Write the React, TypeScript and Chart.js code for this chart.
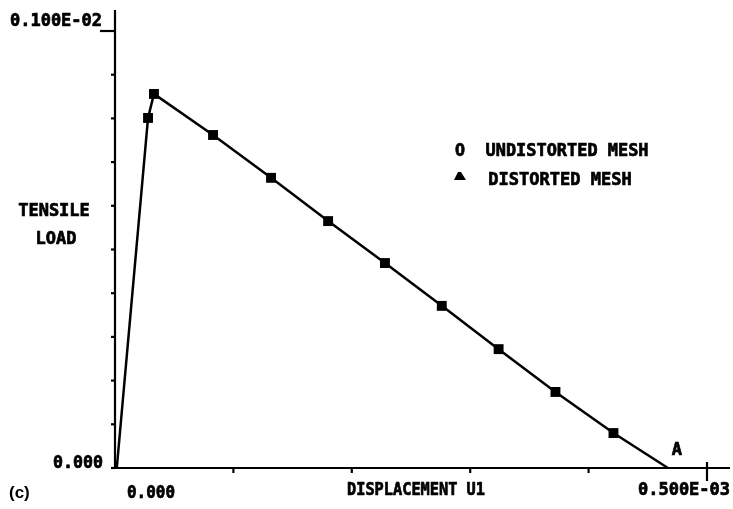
import React, { useEffect, useRef } from 'react';
import { Chart, registerables } from 'chart.js';

Chart.register(...registerables);

// Displacement U1 of each computed point, and the tensile load there
const dispU1 = [0.0000015, 0.0000279, 0.0000329, 0.0000828, 0.0001318, 0.000180, 0.000228, 0.000276, 0.000324, 0.000372, 0.000421, 0.000467];
const tensileLoad = [0, 0.000801, 0.000856, 0.000762, 0.000664, 0.000565, 0.000469, 0.000371, 0.000272, 0.000174, 0.000080, 0];

// Axis ticks
const xTicks = [0, 0.0001, 0.0002, 0.0003, 0.0004, 0.0005];
const yTicks = [0, 0.0001, 0.0002, 0.0003, 0.0004, 0.0005, 0.0006, 0.0007, 0.0008, 0.0009, 0.001];
const xTickLabels = ['0.000', '0.500E-03'];
const yTickLabels = ['0.000', '0.100E-02'];

const xTitle = 'DISPLACEMENT U1';
const yTitle = ['TENSILE', 'LOAD'];
const legendLabels = ['UNDISTORTED MESH', 'DISTORTED MESH'];
const panelLabel = '(c)';
const pointLabel = 'A';

const FONT = 'bold 17px "DejaVu Sans Mono", "Liberation Mono", monospace';

const axesPlugin = {
  id: 'plotterAxes',
  afterDraw(chart: any) {
    const ctx = chart.ctx as CanvasRenderingContext2D;
    const xs = chart.scales.x;
    const ys = chart.scales.y;
    const x0 = xs.getPixelForValue(0);
    const y0 = ys.getPixelForValue(0);
    const yTop = ys.getPixelForValue(yTicks[yTicks.length - 1]);
    const xEnd = xs.getPixelForValue(xTicks[xTicks.length - 1]);
    ctx.save();
    ctx.strokeStyle = '#000';
    ctx.fillStyle = '#000';
    ctx.lineWidth = 2.2;
    ctx.lineCap = 'butt';

    // axes lines
    ctx.beginPath();
    ctx.moveTo(x0, yTop - 21);
    ctx.lineTo(x0, y0);
    ctx.lineTo(xEnd + 23, y0);
    ctx.stroke();

    // y ticks
    yTicks.forEach((v, i) => {
      const py = ys.getPixelForValue(v);
      ctx.beginPath();
      if (i === yTicks.length - 1) {
        ctx.moveTo(x0 - 15, py);
      } else {
        ctx.moveTo(x0 - 4, py);
      }
      ctx.lineTo(x0, py);
      ctx.stroke();
    });

    // x ticks
    xTicks.forEach((v, i) => {
      if (i === 0) return;
      const px = xs.getPixelForValue(v);
      ctx.beginPath();
      if (i === xTicks.length - 1) {
        ctx.moveTo(px, y0 - 6);
        ctx.lineTo(px, y0 + 13);
      } else {
        ctx.moveTo(px, y0);
        ctx.lineTo(px, y0 + 5);
      }
      ctx.stroke();
    });

    const txt = (s: string, cx: number, cy: number, w: number) => {
      ctx.font = FONT;
      ctx.textAlign = 'center';
      ctx.textBaseline = 'middle';
      ctx.lineWidth = 0.7;
      ctx.fillText(s, cx, cy, w);
      ctx.strokeText(s, cx, cy, w);
    };

    // tick labels
    txt(yTickLabels[1], x0 - 59, yTop - 9, 93);
    txt(yTickLabels[0], x0 - 37, y0 - 4, 50);
    txt(xTickLabels[0], x0 + 36, y0 + 26, 48);
    txt(xTickLabels[1], xEnd - 23, y0 + 23, 94);

    // titles
    txt(xTitle, 416, y0 + 23, 138);
    txt(yTitle[0], 54, 212, 72);
    txt(yTitle[1], 56, 240, 42);

    // legend
    txt('O', 460, 152, 10);
    txt(legendLabels[0], 567, 152, 163);
    ctx.beginPath();
    ctx.moveTo(454, 180);
    ctx.lineTo(466, 180);
    ctx.lineTo(461, 172);
    ctx.lineTo(458, 172);
    ctx.closePath();
    ctx.fill();
    txt(legendLabels[1], 560, 181, 146);

    // point label A
    const ds = chart.getDatasetMeta(0).data;
    const last = ds[ds.length - 1];
    txt(pointLabel, last.x + 9, last.y - 17, 11);

    // panel label
    ctx.font = 'bold 17px "Liberation Sans", Arial, sans-serif';
    ctx.textAlign = 'left';
    ctx.textBaseline = 'middle';
    ctx.fillText(panelLabel, 9, 493);

    ctx.restore();
  },
};

export default function App() {
  const ref = useRef<HTMLCanvasElement>(null);
  useEffect(() => {
    const last = dispU1.length - 1;
    const chart = new Chart(ref.current as HTMLCanvasElement, {
      type: 'scatter',
      data: {
        datasets: [
          {
            data: dispU1.map((x, i) => ({ x, y: tensileLoad[i] })),
            showLine: true,
            borderColor: '#000',
            borderWidth: 2.5,
            backgroundColor: '#000',
            pointBackgroundColor: '#000',
            pointBorderColor: '#000',
            pointBorderWidth: 0,
            pointStyle: 'rect',
            pointRadius: (c: any) => (c.dataIndex === 0 || c.dataIndex === last ? 0 : 7),
            tension: 0,
            clip: false as any,
          } as any,
        ],
      },
      options: {
        responsive: false,
        animation: false,
        events: [],
        layout: { padding: { left: 115, right: 26, top: 31, bottom: 41 } },
        plugins: { legend: { display: false }, tooltip: { enabled: false } },
        scales: {
          x: { type: 'linear', min: 0, max: 0.0005, display: false },
          y: { type: 'linear', min: 0, max: 0.001, display: false },
        },
      },
      plugins: [axesPlugin],
    } as any);
    return () => chart.destroy();
  }, []);
  return (
    <div style={{ position: 'fixed', left: 0, top: 0, width: 733, height: 509, background: '#fff' }}>
      <canvas ref={ref} width={733} height={509} style={{ display: 'block' }} />
    </div>
  );
}
